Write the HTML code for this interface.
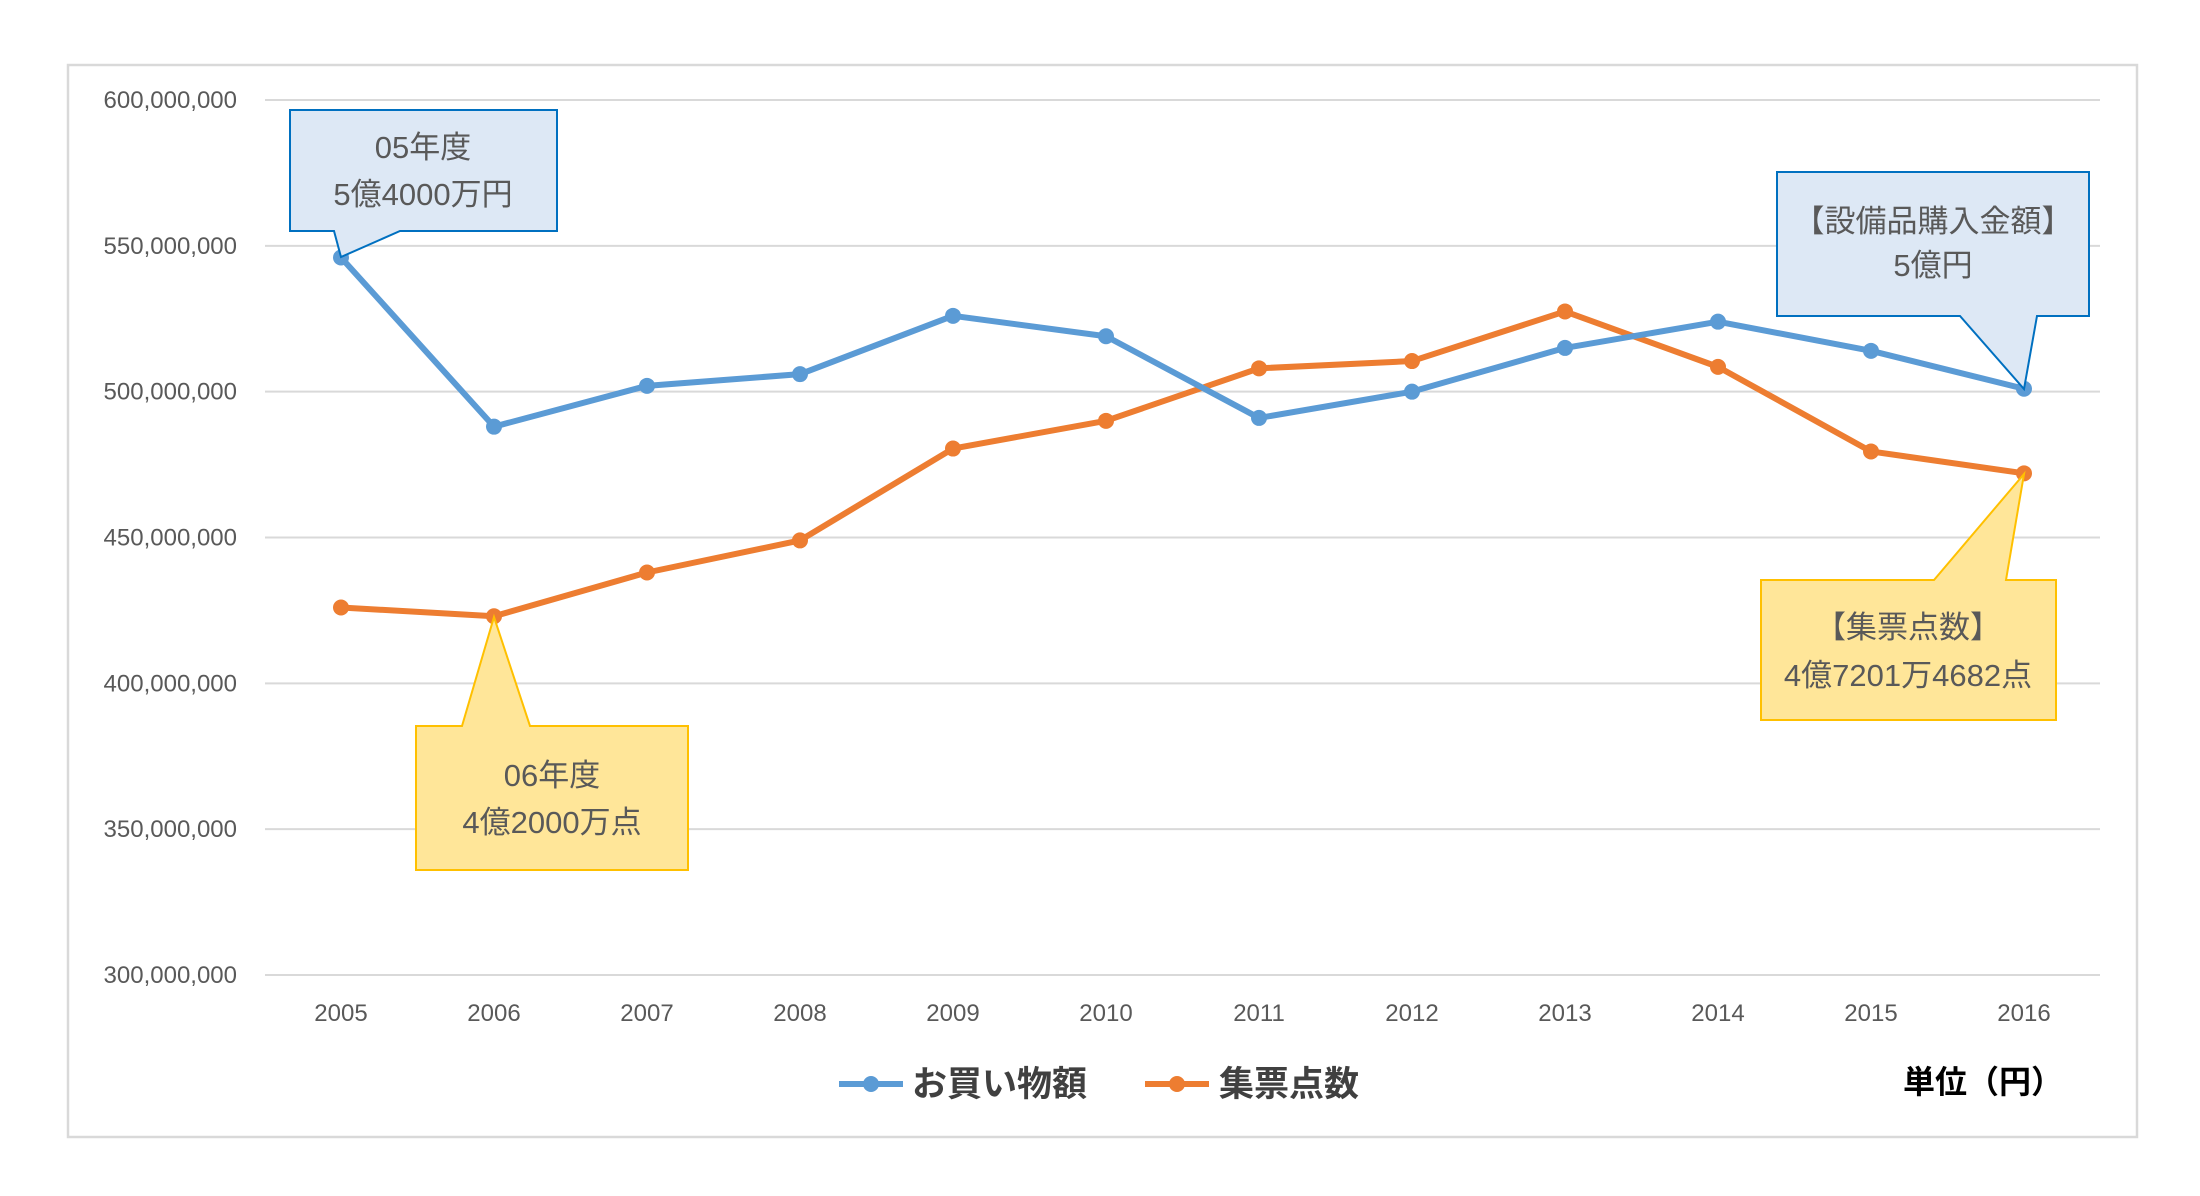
<!DOCTYPE html>
<html><head><meta charset="utf-8"><style>
html,body{margin:0;padding:0;background:#fff;}
svg{display:block;font-family:"Liberation Sans","Noto Sans CJK JP",sans-serif;}
</style></head><body>
<svg id="chart" width="2200" height="1196" viewBox="0 0 2200 1196">
<rect x="68" y="65" width="2069" height="1072" fill="#fff" stroke="#d9d9d9" stroke-width="2.5"/>
<g id="grid"></g><g id="ylabels"></g><g id="xlabels"></g><g id="series"></g>
<g id="callouts">
 <g>
  <path d="M290,110 H557 V231 H400 L341,257 L334,231 H290 Z" fill="#dde8f5" stroke="#0070c0" stroke-width="2"/>
  <text x="423" y="158" font-size="31" fill="#595959" text-anchor="middle">05年度</text>
  <text x="423" y="205" font-size="31" fill="#595959" text-anchor="middle">5億4000万円</text>
 </g>
 <g>
  <path d="M1777,172 H2089 V316 H2037 L2024,389 L1960,316 H1777 Z" fill="#dde8f5" stroke="#0070c0" stroke-width="2"/>
  <text x="1933" y="232" font-size="31" fill="#595959" text-anchor="middle">【設備品購入金額】</text>
  <text x="1933" y="276" font-size="31" fill="#595959" text-anchor="middle">5億円</text>
 </g>
 <g>
  <path d="M416,726 H462 L494,617 L530,726 H688 V870 H416 Z" fill="#ffe699" stroke="#ffc000" stroke-width="2"/>
  <text x="552" y="786" font-size="31" fill="#595959" text-anchor="middle">06年度</text>
  <text x="552" y="833" font-size="31" fill="#595959" text-anchor="middle">4億2000万点</text>
 </g>
 <g>
  <path d="M1761,580 H1934 L2024,474 L2006,580 H2056 V720 H1761 Z" fill="#ffe699" stroke="#ffc000" stroke-width="2"/>
  <text x="1908" y="638" font-size="31" fill="#595959" text-anchor="middle">【集票点数】</text>
  <text x="1908" y="686" font-size="31" fill="#595959" text-anchor="middle">4億7201万4682点</text>
 </g>
</g>
<g>
 <g>
  <line x1="839" y1="1084" x2="903" y2="1084" stroke="#5b9bd5" stroke-width="6"/>
  <circle cx="871" cy="1084" r="8" fill="#5b9bd5"/>
  <text x="912" y="1096" font-size="35" font-weight="bold" fill="#404040">お買い物額</text>
 </g>
 <g>
  <line x1="1145" y1="1084" x2="1209" y2="1084" stroke="#ed7d31" stroke-width="6"/>
  <circle cx="1177" cy="1084" r="8" fill="#ed7d31"/>
  <text x="1219" y="1096" font-size="35" font-weight="bold" fill="#404040">集票点数</text>
 </g>
</g>
<text x="1903" y="1093" font-size="32" font-weight="bold" fill="#000">単位（円）</text>
</svg>
<script>
const years=["2005","2006","2007","2008","2009","2010","2011","2012","2013","2014","2015","2016"];
const purchase=[546e6,488e6,502e6,506e6,526e6,519e6,491e6,500e6,515e6,524e6,514e6,501e6];
const stamps=[426e6,423e6,438e6,449e6,480.5e6,490e6,508e6,510.5e6,527.5e6,508.5e6,479.5e6,472e6];
const yTicks=[300e6,350e6,400e6,450e6,500e6,550e6,600e6];
const NS="http://www.w3.org/2000/svg";
const X0=341,XS=153,Y0=975,Y1=100,VMIN=300e6,VMAX=600e6;
function xs(i){return X0+i*XS;}
function ys(v){return Y0-(v-VMIN)/(VMAX-VMIN)*(Y0-Y1);}
function mk(t,a){const e=document.createElementNS(NS,t);for(const k in a)e.setAttribute(k,a[k]);return e;}
const grid=document.getElementById('grid'),yl=document.getElementById('ylabels'),xl=document.getElementById('xlabels'),se=document.getElementById('series');
yTicks.forEach(v=>{
 const l=mk('line',{x1:265,x2:2100,y1:ys(v),y2:ys(v),stroke:'#d9d9d9','stroke-width':2});
 
 
 grid.appendChild(l);
 const t=mk('text',{x:237,y:ys(v)+8,'font-size':24,fill:'#595959','text-anchor':'end'});
 t.textContent=v.toLocaleString('en-US');
 
 
 yl.appendChild(t);
});
years.forEach((y,i)=>{
 const t=mk('text',{x:xs(i),y:1021,'font-size':24,fill:'#595959','text-anchor':'middle'});
 t.textContent=y;
 
 
 xl.appendChild(t);
});
function draw(vals,color,name){
 const g=mk('g',{});
 
 
 const p=mk('polyline',{points:vals.map((v,i)=>xs(i)+','+ys(v)).join(' '),fill:'none',stroke:color,'stroke-width':6,'stroke-linejoin':'round'});
 
 
 g.appendChild(p);
 vals.forEach((v,i)=>{
  const c=mk('circle',{cx:xs(i),cy:ys(v),r:8,fill:color});
  
  
  g.appendChild(c);
 });
 se.appendChild(g);
}
draw(stamps,'#ed7d31','stamps');
draw(purchase,'#5b9bd5','purchase');
</script>
</body></html>
